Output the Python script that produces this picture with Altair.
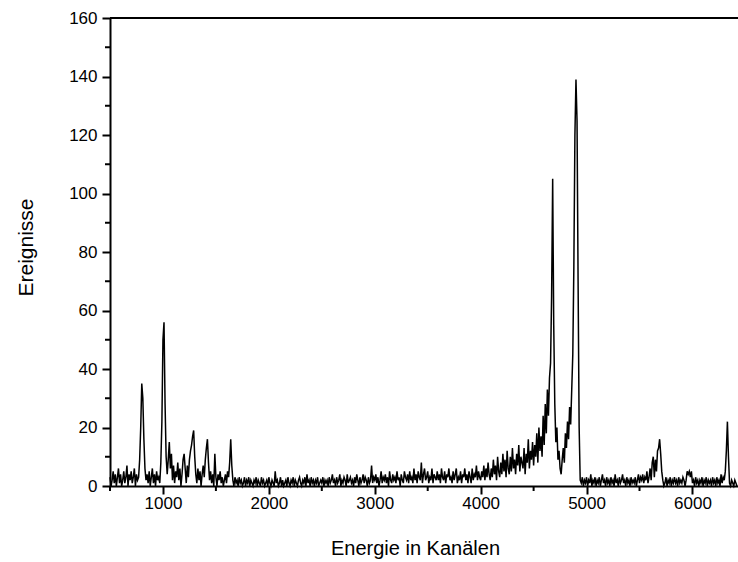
import altair as alt
import pandas as pd

# Spectrum counts, one value every 10 channels.
# Each row holds 10 consecutive values starting at the channel in the key.
STEP = 10
rows_by_start = {
    500: [3, 0, 2, 5, 1, 4, 0, 3, 6, 1],
    600: [4, 0, 2, 5, 1, 3, 7, 0, 4, 2],
    700: [5, 1, 3, 6, 0, 4, 2, 3, 9, 20],
    800: [35, 30, 16, 6, 2, 4, 1, 5, 0, 3],
    900: [6, 1, 4, 0, 5, 2, 3, 1, 8, 22],
    1000: [50, 56, 28, 10, 4, 9, 15, 6, 11, 2],
    1100: [7, 1, 5, 3, 8, 2, 6, 0, 4, 9],
    1200: [11, 6, 1, 7, 3, 9, 12, 14, 17, 19],
    1300: [10, 4, 1, 6, 2, 5, 0, 4, 7, 3],
    1400: [9, 13, 16, 8, 2, 5, 1, 4, 0, 11],
    1500: [3, 0, 4, 2, 5, 1, 3, 0, 2, 4],
    1600: [1, 5, 3, 8, 16, 7, 2, 0, 3, 1],
    1700: [2, 0, 3, 1, 2, 0, 1, 3, 0, 2],
    1800: [1, 3, 0, 2, 1, 0, 2, 1, 3, 0],
    1900: [2, 1, 0, 3, 1, 2, 0, 1, 2, 0],
    2000: [3, 1, 0, 2, 1, 0, 5, 1, 2, 0],
    2100: [1, 3, 0, 2, 0, 1, 2, 0, 3, 1],
    2200: [0, 2, 1, 3, 0, 2, 1, 0, 2, 3],
    2300: [1, 0, 2, 1, 3, 0, 4, 1, 2, 0],
    2400: [3, 1, 2, 0, 2, 1, 3, 0, 1, 2],
    2500: [1, 3, 0, 2, 1, 2, 0, 3, 1, 2],
    2600: [4, 1, 2, 0, 3, 1, 2, 4, 0, 2],
    2700: [1, 3, 2, 0, 4, 1, 2, 3, 1, 2],
    2800: [0, 3, 1, 4, 2, 0, 3, 1, 2, 4],
    2900: [1, 3, 2, 0, 3, 1, 2, 7, 1, 3],
    3000: [2, 4, 1, 3, 0, 2, 5, 1, 3, 2],
    3100: [4, 1, 3, 0, 5, 2, 1, 4, 2, 3],
    3200: [1, 5, 2, 3, 0, 4, 2, 1, 5, 3],
    3300: [2, 4, 1, 5, 2, 3, 1, 6, 2, 4],
    3400: [1, 5, 3, 2, 8, 1, 4, 6, 2, 3],
    3500: [5, 1, 3, 2, 6, 1, 4, 3, 2, 5],
    3600: [2, 4, 1, 6, 3, 2, 5, 1, 4, 3],
    3700: [6, 2, 3, 1, 5, 2, 4, 6, 1, 3],
    3800: [2, 5, 1, 4, 3, 6, 2, 4, 1, 5],
    3900: [3, 1, 6, 2, 4, 3, 7, 2, 5, 3],
    4000: [2, 5, 3, 7, 2, 6, 3, 8, 4, 2],
    4100: [6, 3, 9, 4, 7, 2, 10, 5, 3, 8],
    4200: [4, 11, 5, 9, 3, 12, 6, 4, 10, 5],
    4300: [13, 6, 9, 4, 11, 7, 14, 5, 10, 8],
    4400: [6, 13, 4, 11, 8, 16, 6, 12, 9, 15],
    4500: [7, 14, 10, 18, 8, 20, 12, 17, 10, 24],
    4600: [14, 28, 18, 33, 24, 37, 42, 65, 105, 55],
    4700: [28, 15, 20, 9, 12, 6, 4, 9, 13, 8],
    4800: [18, 13, 22, 16, 27, 21, 33, 45, 75, 120],
    4900: [139, 125, 70, 20, 2, 1, 3, 0, 2, 1],
    5000: [3, 0, 2, 1, 4, 0, 2, 1, 3, 0],
    5100: [2, 1, 3, 0, 2, 4, 1, 2, 0, 3],
    5200: [1, 2, 0, 3, 1, 2, 0, 4, 1, 2],
    5300: [0, 3, 1, 2, 4, 1, 2, 0, 3, 1],
    5400: [2, 0, 3, 1, 2, 1, 3, 0, 2, 4],
    5500: [1, 3, 2, 4, 1, 3, 2, 5, 1, 3],
    5600: [6, 2, 8, 10, 3, 9, 5, 12, 13, 16],
    5700: [11, 5, 2, 0, 1, 3, 0, 2, 1, 3],
    5800: [0, 2, 1, 3, 1, 2, 0, 3, 1, 2],
    5900: [1, 3, 2, 0, 2, 5, 4, 5, 3, 5],
    6000: [1, 2, 0, 3, 1, 2, 0, 2, 1, 3],
    6100: [0, 2, 1, 3, 0, 2, 1, 2, 0, 3],
    6200: [1, 2, 0, 3, 1, 2, 0, 4, 1, 3],
    6300: [2, 5, 12, 22, 10, 1, 0, 2, 1, 0],
    6400: [2, 1, 0],
}

x_ticks = [1000, 2000, 3000, 4000, 5000, 6000]
x_minor = [500, 1500, 2500, 3500, 4500, 5500]
y_ticks = [0, 20, 40, 60, 80, 100, 120, 140, 160]
y_minor = [10, 30, 50, 70, 90, 110, 130, 150]

rows = []
for start, vals in rows_by_start.items():
    for i, v in enumerate(vals):
        rows.append({"ch": start + i * STEP, "n": v})
df = pd.DataFrame(rows)

W, H = 628, 468
FONT = "Liberation Sans"

xscale = alt.Scale(domain=[500, 6430], nice=False, zero=False)
yscale = alt.Scale(domain=[0, 160], nice=False)

line = alt.Chart(df).mark_line(color="black", strokeWidth=1.5).encode(
    x=alt.X("ch:Q", scale=xscale,
            axis=alt.Axis(values=x_ticks, format="d", title="Energie in Kanälen", grid=False,
                          tickSize=8, tickWidth=2, domainWidth=2, labelPadding=1,
                          titleX=305, titleY=68, titleAlign="center",
                          titleBaseline="alphabetic")),
    y=alt.Y("n:Q", scale=yscale,
            axis=alt.Axis(values=y_ticks, format="d", title="Ereignisse", grid=False,
                          tickSize=8, tickWidth=2, domainWidth=2, labelPadding=5,
                          titleX=-78, titleY=229, titleAlign="center",
                          titleFontSize=21, titleBaseline="alphabetic")),
)

ym = alt.Chart(pd.DataFrame({"v": y_minor})).mark_rule(color="black", strokeWidth=2).encode(
    y=alt.Y("v:Q", scale=yscale), x=alt.value(-5), x2=alt.value(0))
xm = alt.Chart(pd.DataFrame({"v": x_minor})).mark_rule(color="black", strokeWidth=2).encode(
    x=alt.X("v:Q", scale=xscale), y=alt.value(H), y2=alt.value(H + 5))
top = alt.Chart(pd.DataFrame({"v": [160]})).mark_rule(color="black", strokeWidth=2).encode(
    y=alt.Y("v:Q", scale=yscale), x=alt.value(0), x2=alt.value(W))

chart = alt.layer(line, ym, xm, top).properties(
    width=W, height=H,
    autosize=alt.AutoSizeParams(type="none"),
    padding={"left": 110, "top": 18, "right": 0, "bottom": 76},
    background="white",
).configure_view(stroke=None).configure_axis(
    labelFont=FONT, labelFontSize=17, labelColor="black",
    titleFont=FONT, titleFontSize=20, titleFontWeight="normal", titleColor="black",
    domainColor="black", tickColor="black",
)

chart.save("out.html", embed_options={"renderer": "svg", "actions": False})
